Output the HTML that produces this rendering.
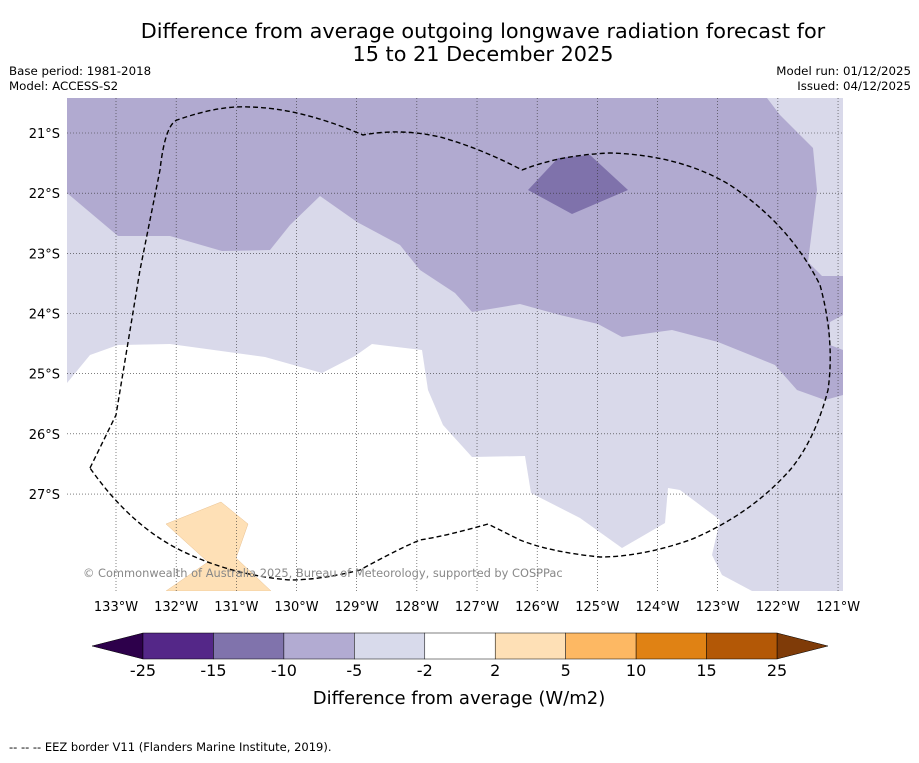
<!DOCTYPE html>
<html><head><meta charset="utf-8"><style>
body{margin:0;background:#fff;font-family:"Liberation Sans","DejaVu Sans",sans-serif}
</style></head><body>
<svg width="919" height="758" xmlns="http://www.w3.org/2000/svg" font-family="DejaVu Sans, Liberation Sans, sans-serif">
<rect width="919" height="758" fill="#fff"/>
<text x="483" y="38" font-size="20.8" text-anchor="middle">Difference from average outgoing longwave radiation forecast for</text>
<text x="483" y="61" font-size="20.8" text-anchor="middle">15 to 21 December 2025</text>
<text x="9" y="75" font-size="11.8">Base period: 1981-2018</text>
<text x="9" y="90" font-size="11.8">Model: ACCESS-S2</text>
<text x="911" y="75" font-size="11.8" text-anchor="end">Model run: 01/12/2025</text>
<text x="911" y="90" font-size="11.8" text-anchor="end">Issued: 04/12/2025</text>
<defs><clipPath id="mc"><rect x="67" y="98" width="776" height="493"/></clipPath></defs>
<g clip-path="url(#mc)">
<rect x="67" y="98" width="776" height="493" fill="#d9d9ea"/>
<polygon fill="#b1aad0" points="67,98 767,98 780,115 813,148 817,190 808,262 822,276 843,276 843,315 830,322 830,345 843,350 843,395 825,400 797,390 775,365 718,342 672,330 622,337 598,324 560,315 520,304 472,312 455,293 420,270 400,245 357,222 320,196 290,225 270,250 222,251 170,236 118,236 67,193"/>
<polygon fill="#7f72ab" points="528,190 558,158 590,155 628,190 572,214"/>
<polygon fill="#ffffff" points="67,383 90,355 118,345 170,344 265,357 322,373 355,356 372,344 422,350 428,390 443,425 472,457 525,456 531,493 580,518 622,548 665,523 668,488 680,490 720,520 712,555 722,575 752,591 67,591"/>
<polygon fill="#fee0b6" stroke="#e8c090" stroke-width="0.5" points="166,524 221,502 248,524 236,558 271,591 166,591 208,562"/>
<g id="grid"></g>
<path fill="none" stroke="#000" stroke-width="1.4" stroke-dasharray="5,3" d="M90,468 L116,415 L140,270 L160,170 Q165,125 177,120 Q220,105 250,107 Q300,108 363,135 Q400,128 440,137 Q480,148 522,170 Q560,155 610,153 Q680,155 730,185 Q790,225 820,285 Q835,340 828,390 Q815,440 790,470 Q750,515 690,540 Q640,557 600,557 Q550,552 520,540 L488,524 Q450,535 420,540 Q400,548 360,570 Q320,580 290,580 Q230,575 180,550 Q130,525 90,468"/>
<text x="83" y="577" font-size="11.4" fill="#888">© Commonwealth of Australia 2025, Bureau of Meteorology, supported by COSPPac</text>
</g>
<g id="axes"></g>
<g>
<polygon points="143,633 92,646 143,659" fill="#2d004b" stroke="#000" stroke-width="0.5"/>
<polygon points="777,633 828,646 777,659" fill="#7f3b08" stroke="#000" stroke-width="0.5"/>
<g id="cb"></g>
<text x="459" y="704" font-size="18" text-anchor="middle">Difference from average (W/m2)</text>
</g>
<text x="9" y="751" font-size="11.5">--  --  -- EEZ border V11 (Flanders Marine Institute, 2019).</text>
</svg>
<script>
const lons=[133,132,131,130,129,128,127,126,125,124,123,122,121];
const lats=[21,22,23,24,25,26,27];
const cbTicks=["-25","-15","-10","-5","-2","2","5","10","15","25"];
const cbColors=["#542788","#8073ac","#b2abd2","#d8daeb","#ffffff","#fee0b6","#fdb863","#e08214","#b35806"];
const NS="http://www.w3.org/2000/svg";
function xOf(lon){return 116+(133-lon)*60.17;}
function yOf(lat){return 133+(lat-21)*60.17;}
const grid=document.getElementById('grid'),axes=document.getElementById('axes'),cb=document.getElementById('cb');
function mk(tag,at,parent){const e=document.createElementNS(NS,tag);for(const k in at)e.setAttribute(k,at[k]);parent.appendChild(e);return e;}
lons.forEach(l=>{const x=xOf(l);
const g=mk('line',{x1:x,x2:x,y1:98,y2:591,stroke:'#333','stroke-width':0.6,'stroke-dasharray':'1,2'},grid);


const t=mk('text',{x:x,y:611,'font-size':13,'text-anchor':'middle'},axes);t.textContent=l+'°W';

});
lats.forEach(l=>{const y=yOf(l);
const g=mk('line',{x1:67,x2:843,y1:y,y2:y,stroke:'#333','stroke-width':0.6,'stroke-dasharray':'1,2'},grid);


const t=mk('text',{x:60,y:y+5,'font-size':13,'text-anchor':'end'},axes);t.textContent=l+'°S';

});
const w=(777-143)/cbColors.length;
cbColors.forEach((c,i)=>{const r=mk('rect',{x:143+i*w,y:633,width:w,height:26,fill:c,stroke:'#000','stroke-width':0.5},cb);

});
cbTicks.forEach((t,i)=>{const e=mk('text',{x:143+i*w,y:676,'font-size':16,'text-anchor':'middle'},cb);e.textContent=t;

});
</script>
</body></html>
